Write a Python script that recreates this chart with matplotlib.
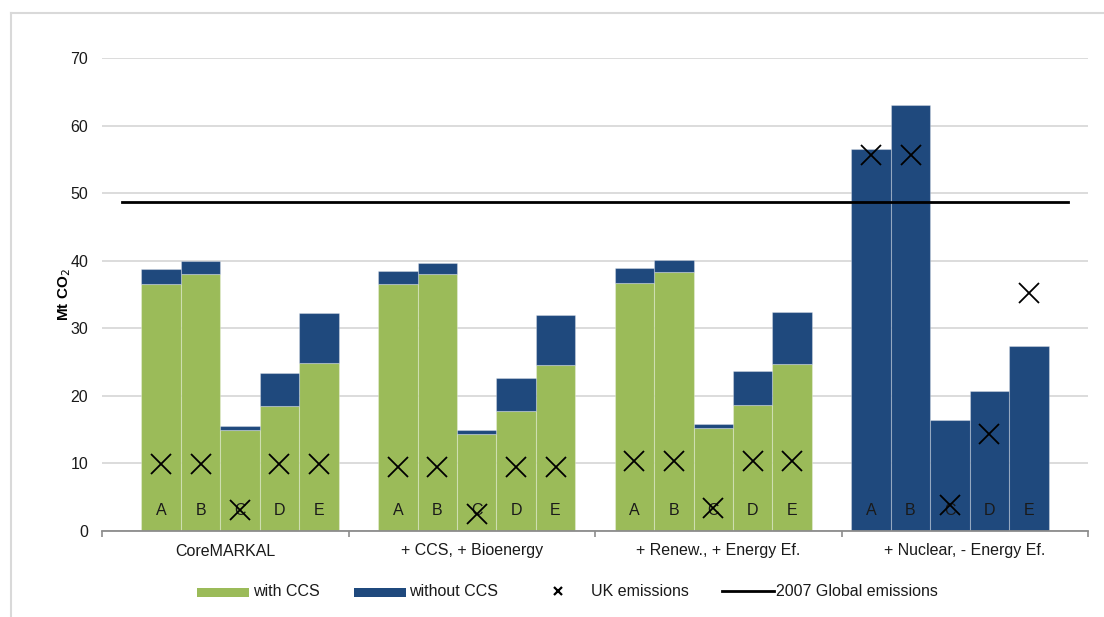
import matplotlib
matplotlib.use("Agg")
import matplotlib.pyplot as plt
from matplotlib.lines import Line2D
from matplotlib.patches import Rectangle
import numpy as np

plt.rcParams['font.family'] = ['Liberation Sans', 'DejaVu Sans']

# Scenario groups and sub-cases
groups = ["CoreMARKAL", "+ CCS, + Bioenergy", "+ Renew., + Energy Ef.", "+ Nuclear, - Energy Ef."]
cases = ["A", "B", "C", "D", "E"]

# Emissions with CCS (Mt CO2), per group, cases A-E
with_ccs = [
    [36.6, 38.1, 14.9, 18.5, 24.8],
    [36.5, 38.0, 14.4, 17.7, 24.5],
    [36.7, 38.3, 15.3, 18.7, 24.7],
    [0.0, 0.0, 0.0, 0.0, 0.0],
]
# Total emissions without CCS (Mt CO2)
without_ccs = [
    [38.7, 39.9, 15.6, 23.4, 32.3],
    [38.5, 39.7, 15.0, 22.7, 32.0],
    [38.9, 40.1, 15.9, 23.7, 32.4],
    [56.5, 63.0, 16.4, 20.7, 27.4],
]
# UK emissions (Mt CO2)
uk_emissions = [
    [9.9, 9.9, 3.1, 9.9, 9.9],
    [9.5, 9.5, 2.5, 9.5, 9.5],
    [10.3, 10.3, 3.4, 10.3, 10.3],
    [55.6, 55.6, 3.9, 14.3, 35.2],
]
global_2007 = 48.7

green = "#9BBB59"
blue = "#1F497D"
text_color = "#1a1a1a"

W, H = 1104, 617
fig = plt.figure(figsize=(W / 100, H / 100), dpi=100)
ax = fig.add_axes([102 / W, 1 - 531 / H, (1088 - 102) / W, (531 - 58) / H])

n_groups = len(groups)
n_cases = len(cases)
slot = n_cases + 1
edge = (1, 1, 1, 0.3)

for g in range(n_groups):
    x = np.arange(n_cases) + 1 + g * slot + 0.5
    green_vals = np.array(with_ccs[g])
    total_vals = np.array(without_ccs[g])
    ax.bar(x, green_vals, width=1.0, color=green, edgecolor=edge, linewidth=0.8, zorder=2)
    ax.bar(x, total_vals - green_vals, bottom=green_vals, width=1.0, color=blue,
           edgecolor=edge, linewidth=0.8, zorder=2)
    for xi, c in zip(x, cases):
        ax.text(xi, 3.1, c, ha="center", va="center", fontsize=11.5, color=text_color, zorder=3)
    ax.plot(x, uk_emissions[g], linestyle="none", marker="x", markersize=14,
            markeredgewidth=1.3, color="black", zorder=4)

total_width = n_groups * slot + 1
ax.plot([0.5, total_width - 0.5], [global_2007, global_2007], color="black", linewidth=2.0, zorder=3)

ax.set_xlim(0, total_width)
ax.set_ylim(0, 70)
ax.set_yticks(np.arange(0, 71, 10))
ax.yaxis.grid(True, color="#D9D9D9", linewidth=1.3, zorder=0)
ax.set_axisbelow(True)
ax.tick_params(axis="y", length=0, pad=10, labelsize=11.5, labelcolor=text_color)

group_w = total_width / n_groups
ax.set_xticks([group_w * i for i in range(n_groups + 1)])
ax.set_xticklabels([])
ax.set_xticks([group_w * (i + 0.5) for i in range(n_groups)], minor=True)
ax.set_xticklabels(groups, minor=True)
ax.tick_params(axis="x", which="major", length=4, width=1.2, color="#8C8C8C", direction="out")
ax.tick_params(axis="x", which="minor", length=0, pad=9, labelsize=11.5, labelcolor=text_color)

for s in ["top", "right", "left"]:
    ax.spines[s].set_visible(False)
ax.spines["bottom"].set_color("#8C8C8C")
ax.spines["bottom"].set_linewidth(1.3)

ax.set_ylabel("Mt CO$_2$", fontsize=11, fontweight="bold")
ax.yaxis.set_label_coords(-(102 - 73) / (1088 - 102), 0.5)

# Outer frame (top and left edges)
fig.add_artist(Line2D([11 / W, 1.0], [1 - 13 / H, 1 - 13 / H], color="#D9D9D9", linewidth=1.5))
fig.add_artist(Line2D([11 / W, 11 / W], [0, 1 - 13 / H], color="#D9D9D9", linewidth=1.5))

# Legend row
ly = 1 - 591 / H
leg_fs = 11.5
fig.add_artist(Rectangle((197 / W, 1 - 597 / H), 52 / W, 9 / H, facecolor=green, edgecolor="none"))
fig.text(253 / W, ly, "with CCS", ha="left", va="center", fontsize=leg_fs, color=text_color)
fig.add_artist(Rectangle((354 / W, 1 - 597 / H), 52 / W, 9 / H, facecolor=blue, edgecolor="none"))
fig.text(409 / W, ly, "without CCS", ha="left", va="center", fontsize=leg_fs, color=text_color)
fig.add_artist(Line2D([558 / W], [ly], linestyle="none", marker="x", markersize=6,
                      markeredgewidth=1.6, color="black"))
fig.text(591 / W, ly, "UK emissions", ha="left", va="center", fontsize=leg_fs, color=text_color)
fig.add_artist(Line2D([722 / W, 774 / W], [ly, ly], color="black", linewidth=2.0))
fig.text(776 / W, ly, "2007 Global emissions", ha="left", va="center", fontsize=leg_fs, color=text_color)

fig.savefig("out.png", dpi=100)
